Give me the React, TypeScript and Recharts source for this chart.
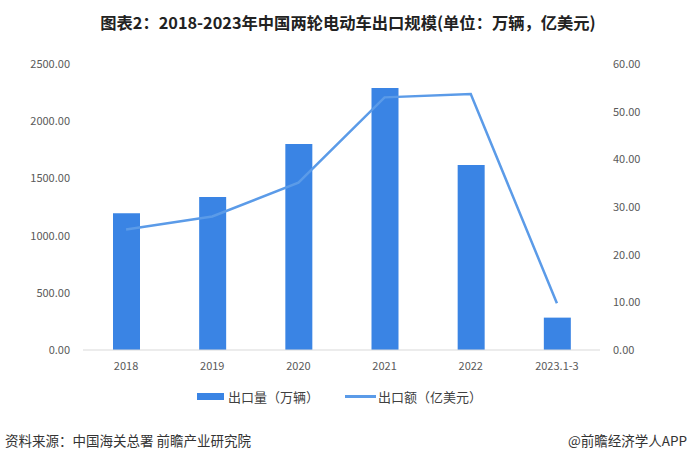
import { ComposedChart, Bar, Line, XAxis, YAxis } from "recharts";

const years = ["2018", "2019", "2020", "2021", "2022", "2023.1-3"];
const volume = [1195, 1337, 1800, 2290, 1617, 283];
const value = [25.3, 28.0, 35.1, 53.0, 53.7, 9.8];
const leftTicks = [0, 500, 1000, 1500, 2000, 2500];
const rightTicks = [0, 10, 20, 30, 40, 50, 60];

const data = years.map((year, i) => ({ year, volume: volume[i], value: value[i] }));

const font = "'Noto Sans CJK SC', 'Noto Sans', sans-serif";
const tick = { fill: "#595959", fontSize: 11, fontFamily: font };

export default function App() {
  return (
    <div style={{ position: "absolute", left: 0, top: 0, width: 690, height: 465, background: "#fff", fontFamily: font }}>
      <div style={{ position: "absolute", top: 10, left: 3, width: 690, textAlign: "center", fontSize: 16.3, fontWeight: 700, color: "#222" }}>
        图表2：2018-2023年中国两轮电动车出口规模(单位：万辆，亿美元)
      </div>
      <ComposedChart width={690} height={380} data={data} margin={{ top: 64, right: 30, left: 0, bottom: 0 }}>
        <XAxis
          dataKey="year"
          height={30}
          tick={tick}
          tickLine={false}
          tickSize={6}
          tickMargin={6}
          axisLine={{ stroke: "#d9d9d9" }}
        />
        <YAxis
          yAxisId="left"
          width={83}
          domain={[0, 2500]}
          ticks={leftTicks}
          tickFormatter={(v: number) => v.toFixed(2)}
          tick={tick}
          tickLine={false}
          axisLine={false}
          tickSize={6}
          tickMargin={7}
        />
        <YAxis
          yAxisId="right"
          orientation="right"
          width={60}
          domain={[0, 60]}
          ticks={rightTicks}
          tickFormatter={(v: number) => v.toFixed(2)}
          tick={tick}
          tickLine={false}
          axisLine={false}
          tickSize={6}
          tickMargin={7}
        />
        <Bar yAxisId="left" dataKey="volume" fill="#3a84e4" barSize={27} isAnimationActive={false} />
        <Line
          yAxisId="right"
          dataKey="value"
          stroke="#5b9be8"
          strokeWidth={2.5}
          dot={false}
          activeDot={false}
          type="linear"
          isAnimationActive={false}
        />
      </ComposedChart>
      <div style={{ position: "absolute", top: 387, left: 197, display: "flex", alignItems: "center", fontSize: 13, color: "#404040" }}>
        <span style={{ display: "inline-block", width: 27, height: 7, background: "#3a84e4", marginRight: 4 }} />
        <span>出口量（万辆）</span>
        <span style={{ display: "inline-block", width: 31, height: 2.5, background: "#5b9be8", marginLeft: 26, marginRight: 2 }} />
        <span>出口额（亿美元）</span>
      </div>
      <div style={{ position: "absolute", top: 430, left: 5, fontSize: 13.5, color: "#333" }}>
        资料来源：中国海关总署 前瞻产业研究院
      </div>
      <div style={{ position: "absolute", top: 430, right: 3, fontSize: 13.5, color: "#333" }}>
        @前瞻经济学人APP
      </div>
    </div>
  );
}
